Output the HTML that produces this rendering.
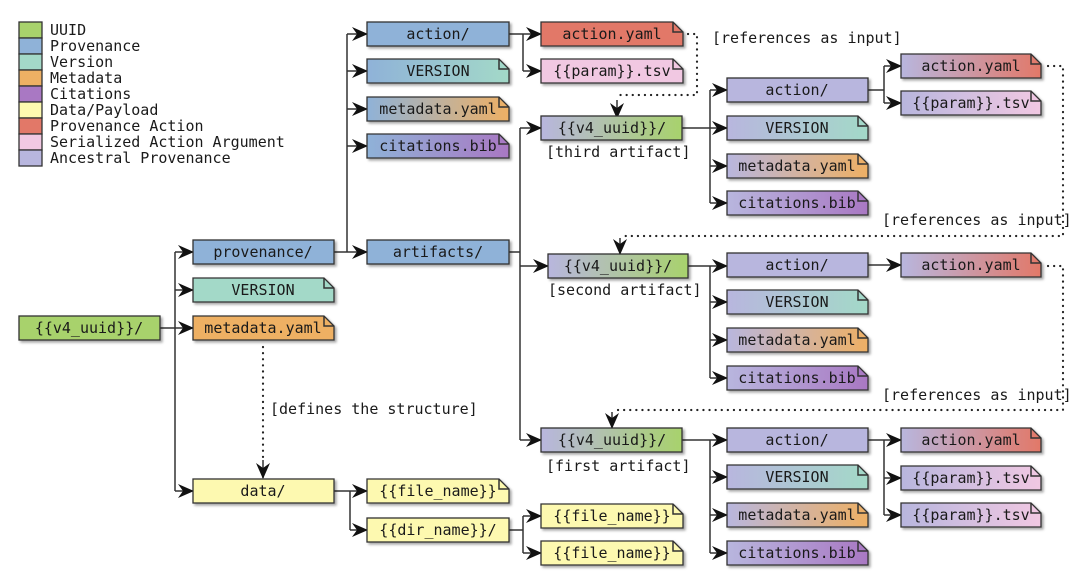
<!DOCTYPE html>
<html><head><meta charset="utf-8"><style>
html,body{margin:0;padding:0;background:#fff;width:1080px;height:587px;overflow:hidden}
svg text{font-family:"DejaVu Sans Mono","Liberation Mono",monospace;font-size:15px;fill:#1a1a1a}
.lg{font-size:15px}
.b{stroke:#333;stroke-width:1.3}
.c{stroke:#333;stroke-width:1.5;fill:none}
.d{stroke:#222;stroke-width:2.2;fill:none;stroke-dasharray:0.1 6;stroke-linecap:round}
</style></head><body>
<svg width="1080" height="587" viewBox="0 0 1080 587" xmlns="http://www.w3.org/2000/svg">
<defs>
<marker id="a" markerWidth="16" markerHeight="14" refX="15" refY="7" orient="auto" markerUnits="userSpaceOnUse"><path d="M0,0 L16,7 L0,14 L5,7 Z" fill="#111"/></marker>
<filter id="s" x="-5%" y="-20%" width="115%" height="160%"><feDropShadow dx="2" dy="2" stdDeviation="1.2" flood-color="#000" flood-opacity="0.35"/></filter>
<linearGradient id="pv"><stop offset="0" stop-color="#8fb2d8"/><stop offset="1" stop-color="#a3d9c8"/></linearGradient>
<linearGradient id="pm"><stop offset="0" stop-color="#8fb2d8"/><stop offset="1" stop-color="#eeb064"/></linearGradient>
<linearGradient id="pc"><stop offset="0" stop-color="#8fb2d8"/><stop offset="1" stop-color="#a978c3"/></linearGradient>
<linearGradient id="av"><stop offset="0" stop-color="#b8b6de"/><stop offset="1" stop-color="#a3d9c8"/></linearGradient>
<linearGradient id="am"><stop offset="0" stop-color="#b8b6de"/><stop offset="1" stop-color="#eeb064"/></linearGradient>
<linearGradient id="ac"><stop offset="0" stop-color="#b8b6de"/><stop offset="1" stop-color="#a978c3"/></linearGradient>
<linearGradient id="ar"><stop offset="0" stop-color="#b8b6de"/><stop offset="1" stop-color="#e27868"/></linearGradient>
<linearGradient id="ap"><stop offset="0" stop-color="#b8b6de"/><stop offset="1" stop-color="#f1c8e2"/></linearGradient>
<linearGradient id="au"><stop offset="0" stop-color="#b8b6de"/><stop offset="1" stop-color="#a8d26c"/></linearGradient>
</defs>

<g class="b">
<rect x="19" y="22" width="23" height="16" fill="#a8d26c"/>
<rect x="19" y="38" width="23" height="16" fill="#8fb2d8"/>
<rect x="19" y="54" width="23" height="16" fill="#a3d9c8"/>
<rect x="19" y="70" width="23" height="16" fill="#eeb064"/>
<rect x="19" y="86" width="23" height="16" fill="#a978c3"/>
<rect x="19" y="102" width="23" height="16" fill="#fdf9b0"/>
<rect x="19" y="118" width="23" height="16" fill="#e27868"/>
<rect x="19" y="134" width="23" height="16" fill="#f1c8e2"/>
<rect x="19" y="150" width="23" height="16" fill="#b8b6de"/>
</g>
<g>
<text x="50" y="35" class="lg">UUID</text>
<text x="50" y="51" class="lg">Provenance</text>
<text x="50" y="67" class="lg">Version</text>
<text x="50" y="83" class="lg">Metadata</text>
<text x="50" y="99" class="lg">Citations</text>
<text x="50" y="115" class="lg">Data/Payload</text>
<text x="50" y="131" class="lg">Provenance Action</text>
<text x="50" y="147" class="lg">Serialized Action Argument</text>
<text x="50" y="163" class="lg">Ancestral Provenance</text>
</g>

<g class="c">
<path d="M160,328H175M175,252V491"/>
<path d="M175,252H193" marker-end="url(#a)"/><path d="M175,290H193" marker-end="url(#a)"/><path d="M175,328H193" marker-end="url(#a)"/><path d="M175,491H193" marker-end="url(#a)"/>
<path d="M334,252H347M347,34V252"/>
<path d="M347,34H367" marker-end="url(#a)"/><path d="M347,71H367" marker-end="url(#a)"/><path d="M347,109H367" marker-end="url(#a)"/><path d="M347,146H367" marker-end="url(#a)"/><path d="M347,252H367" marker-end="url(#a)"/>
<path d="M509,34H523M523,34V71"/>
<path d="M523,34H541" marker-end="url(#a)"/><path d="M523,71H541" marker-end="url(#a)"/>
<path d="M509,252H520M520,128V440"/>
<path d="M520,128H541" marker-end="url(#a)"/><path d="M520,266H548" marker-end="url(#a)"/><path d="M520,440H541" marker-end="url(#a)"/>
<path d="M682,128H710M710,90V203"/>
<path d="M710,90H727" marker-end="url(#a)"/><path d="M710,128H727" marker-end="url(#a)"/><path d="M710,166H727" marker-end="url(#a)"/><path d="M710,203H727" marker-end="url(#a)"/>
<path d="M868,90H884M884,66V103"/>
<path d="M884,66H901" marker-end="url(#a)"/><path d="M884,103H901" marker-end="url(#a)"/>
<path d="M688,266H710M710,266V378"/>
<path d="M710,302H727" marker-end="url(#a)"/><path d="M710,340H727" marker-end="url(#a)"/><path d="M710,378H727" marker-end="url(#a)"/><path d="M710,266H727" marker-end="url(#a)"/>
<path d="M868,265H901" marker-end="url(#a)"/>
<path d="M682,440H710M710,440V553"/>
<path d="M710,440H727" marker-end="url(#a)"/><path d="M710,477H727" marker-end="url(#a)"/><path d="M710,515H727" marker-end="url(#a)"/><path d="M710,553H727" marker-end="url(#a)"/>
<path d="M868,440H884M884,440V515"/>
<path d="M884,440H901" marker-end="url(#a)"/><path d="M884,478H901" marker-end="url(#a)"/><path d="M884,515H901" marker-end="url(#a)"/>
<path d="M334,491H350M350,491V530"/>
<path d="M350,491H367" marker-end="url(#a)"/><path d="M350,530H367" marker-end="url(#a)"/>
<path d="M509,530H523M523,516V553"/>
<path d="M523,516H541" marker-end="url(#a)"/><path d="M523,553H541" marker-end="url(#a)"/>
</g>

<path class="d" d="M688,34H697V95H617"/>
<path d="M617,100V118" class="c" marker-end="url(#a)"/>
<path class="d" d="M1048,66H1063V236H620"/>
<path d="M620,238V254" class="c" marker-end="url(#a)"/>
<path class="d" d="M1048,266H1063V410H612"/>
<path d="M612,412V428" class="c" marker-end="url(#a)"/>
<path class="d" d="M263,347V460"/>
<path d="M263,460V478" class="c" marker-end="url(#a)"/>

<g class="b" filter="url(#s)">
<rect x="19" y="316" width="141" height="24" fill="#a8d26c"/>
<rect x="193" y="240" width="141" height="24" fill="#8fb2d8"/>
<polygon points="193,278 324,278 334,288 334,302 193,302" fill="#a3d9c8"/>
<polygon points="193,316 324,316 334,326 334,340 193,340" fill="#eeb064"/>
<rect x="193" y="479" width="141" height="24" fill="#fdf9b0"/>
<rect x="367" y="22" width="142" height="24" fill="#8fb2d8"/>
<polygon points="367,59 499,59 509,69 509,83 367,83" fill="url(#pv)"/>
<polygon points="367,97 499,97 509,107 509,121 367,121" fill="url(#pm)"/>
<polygon points="367,134 499,134 509,144 509,158 367,158" fill="url(#pc)"/>
<rect x="367" y="240" width="142" height="24" fill="#8fb2d8"/>
<polygon points="541,22 673,22 683,32 683,46 541,46" fill="#e27868"/>
<polygon points="541,59 673,59 683,69 683,83 541,83" fill="#f1c8e2"/>
<rect x="541" y="116" width="141" height="24" fill="url(#au)"/>
<rect x="548" y="254" width="140" height="24" fill="url(#au)"/>
<rect x="541" y="428" width="141" height="24" fill="url(#au)"/>
<rect x="727" y="78" width="141" height="24" fill="#b8b6de"/>
<polygon points="727,116 858,116 868,126 868,140 727,140" fill="url(#av)"/>
<polygon points="727,154 858,154 868,164 868,178 727,178" fill="url(#am)"/>
<polygon points="727,191 858,191 868,201 868,215 727,215" fill="url(#ac)"/>
<polygon points="901,54 1031,54 1041,64 1041,78 901,78" fill="url(#ar)"/>
<polygon points="901,91 1031,91 1041,101 1041,115 901,115" fill="url(#ap)"/>
<rect x="727" y="253" width="141" height="24" fill="#b8b6de"/>
<polygon points="727,290 858,290 868,300 868,314 727,314" fill="url(#av)"/>
<polygon points="727,328 858,328 868,338 868,352 727,352" fill="url(#am)"/>
<polygon points="727,366 858,366 868,376 868,390 727,390" fill="url(#ac)"/>
<polygon points="901,253 1031,253 1041,263 1041,277 901,277" fill="url(#ar)"/>
<rect x="727" y="428" width="141" height="24" fill="#b8b6de"/>
<polygon points="727,465 858,465 868,475 868,489 727,489" fill="url(#av)"/>
<polygon points="727,503 858,503 868,513 868,527 727,527" fill="url(#am)"/>
<polygon points="727,541 858,541 868,551 868,565 727,565" fill="url(#ac)"/>
<polygon points="901,428 1031,428 1041,438 1041,452 901,452" fill="url(#ar)"/>
<polygon points="901,466 1031,466 1041,476 1041,490 901,490" fill="url(#ap)"/>
<polygon points="901,503 1031,503 1041,513 1041,527 901,527" fill="url(#ap)"/>
<polygon points="367,479 499,479 509,489 509,503 367,503" fill="#fdf9b0"/>
<rect x="367" y="518" width="142" height="24" fill="#fdf9b0"/>
<polygon points="541,504 673,504 683,514 683,528 541,528" fill="#fdf9b0"/>
<polygon points="541,541 673,541 683,551 683,565 541,565" fill="#fdf9b0"/>
</g>
<g class="c" stroke-width="1.1">
<path d="M324,278v10h10M324,316v10h10M499,59v10h10M499,97v10h10M499,134v10h10M673,22v10h10M673,59v10h10"/>
<path d="M858,116v10h10M858,154v10h10M858,191v10h10M1031,54v10h10M1031,91v10h10"/>
<path d="M858,290v10h10M858,328v10h10M858,366v10h10M1031,253v10h10"/>
<path d="M858,465v10h10M858,503v10h10M858,541v10h10M1031,428v10h10M1031,466v10h10M1031,503v10h10"/>
<path d="M499,479v10h10M673,504v10h10M673,541v10h10"/>
</g>

<g text-anchor="middle">
<text x="89" y="333">{{v4_uuid}}/</text>
<text x="263" y="257">provenance/</text>
<text x="263" y="295">VERSION</text>
<text x="263" y="333">metadata.yaml</text>
<text x="263" y="496">data/</text>
<text x="438" y="39">action/</text>
<text x="438" y="76">VERSION</text>
<text x="438" y="114">metadata.yaml</text>
<text x="438" y="151">citations.bib</text>
<text x="438" y="257">artifacts/</text>
<text x="612" y="39">action.yaml</text>
<text x="612" y="76">{{param}}.tsv</text>
<text x="612" y="133">{{v4_uuid}}/</text>
<text x="618" y="271">{{v4_uuid}}/</text>
<text x="612" y="445">{{v4_uuid}}/</text>
<text x="797" y="95">action/</text>
<text x="797" y="133">VERSION</text>
<text x="797" y="171">metadata.yaml</text>
<text x="797" y="208">citations.bib</text>
<text x="971" y="71">action.yaml</text>
<text x="971" y="108">{{param}}.tsv</text>
<text x="797" y="270">action/</text>
<text x="797" y="307">VERSION</text>
<text x="797" y="345">metadata.yaml</text>
<text x="797" y="383">citations.bib</text>
<text x="971" y="270">action.yaml</text>
<text x="797" y="445">action/</text>
<text x="797" y="482">VERSION</text>
<text x="797" y="520">metadata.yaml</text>
<text x="797" y="558">citations.bib</text>
<text x="971" y="445">action.yaml</text>
<text x="971" y="483">{{param}}.tsv</text>
<text x="971" y="520">{{param}}.tsv</text>
<text x="438" y="496">{{file_name}}</text>
<text x="438" y="535">{{dir_name}}/</text>
<text x="612" y="521">{{file_name}}</text>
<text x="612" y="558">{{file_name}}</text>
</g>
<text x="546" y="157">[third artifact]</text>
<text x="548" y="295">[second artifact]</text>
<text x="546" y="471">[first artifact]</text>
<text x="712" y="43">[references as input]</text>
<text x="882" y="225">[references as input]</text>
<text x="882" y="400">[references as input]</text>
<text x="270" y="414">[defines the structure]</text>
</svg>
</body></html>
